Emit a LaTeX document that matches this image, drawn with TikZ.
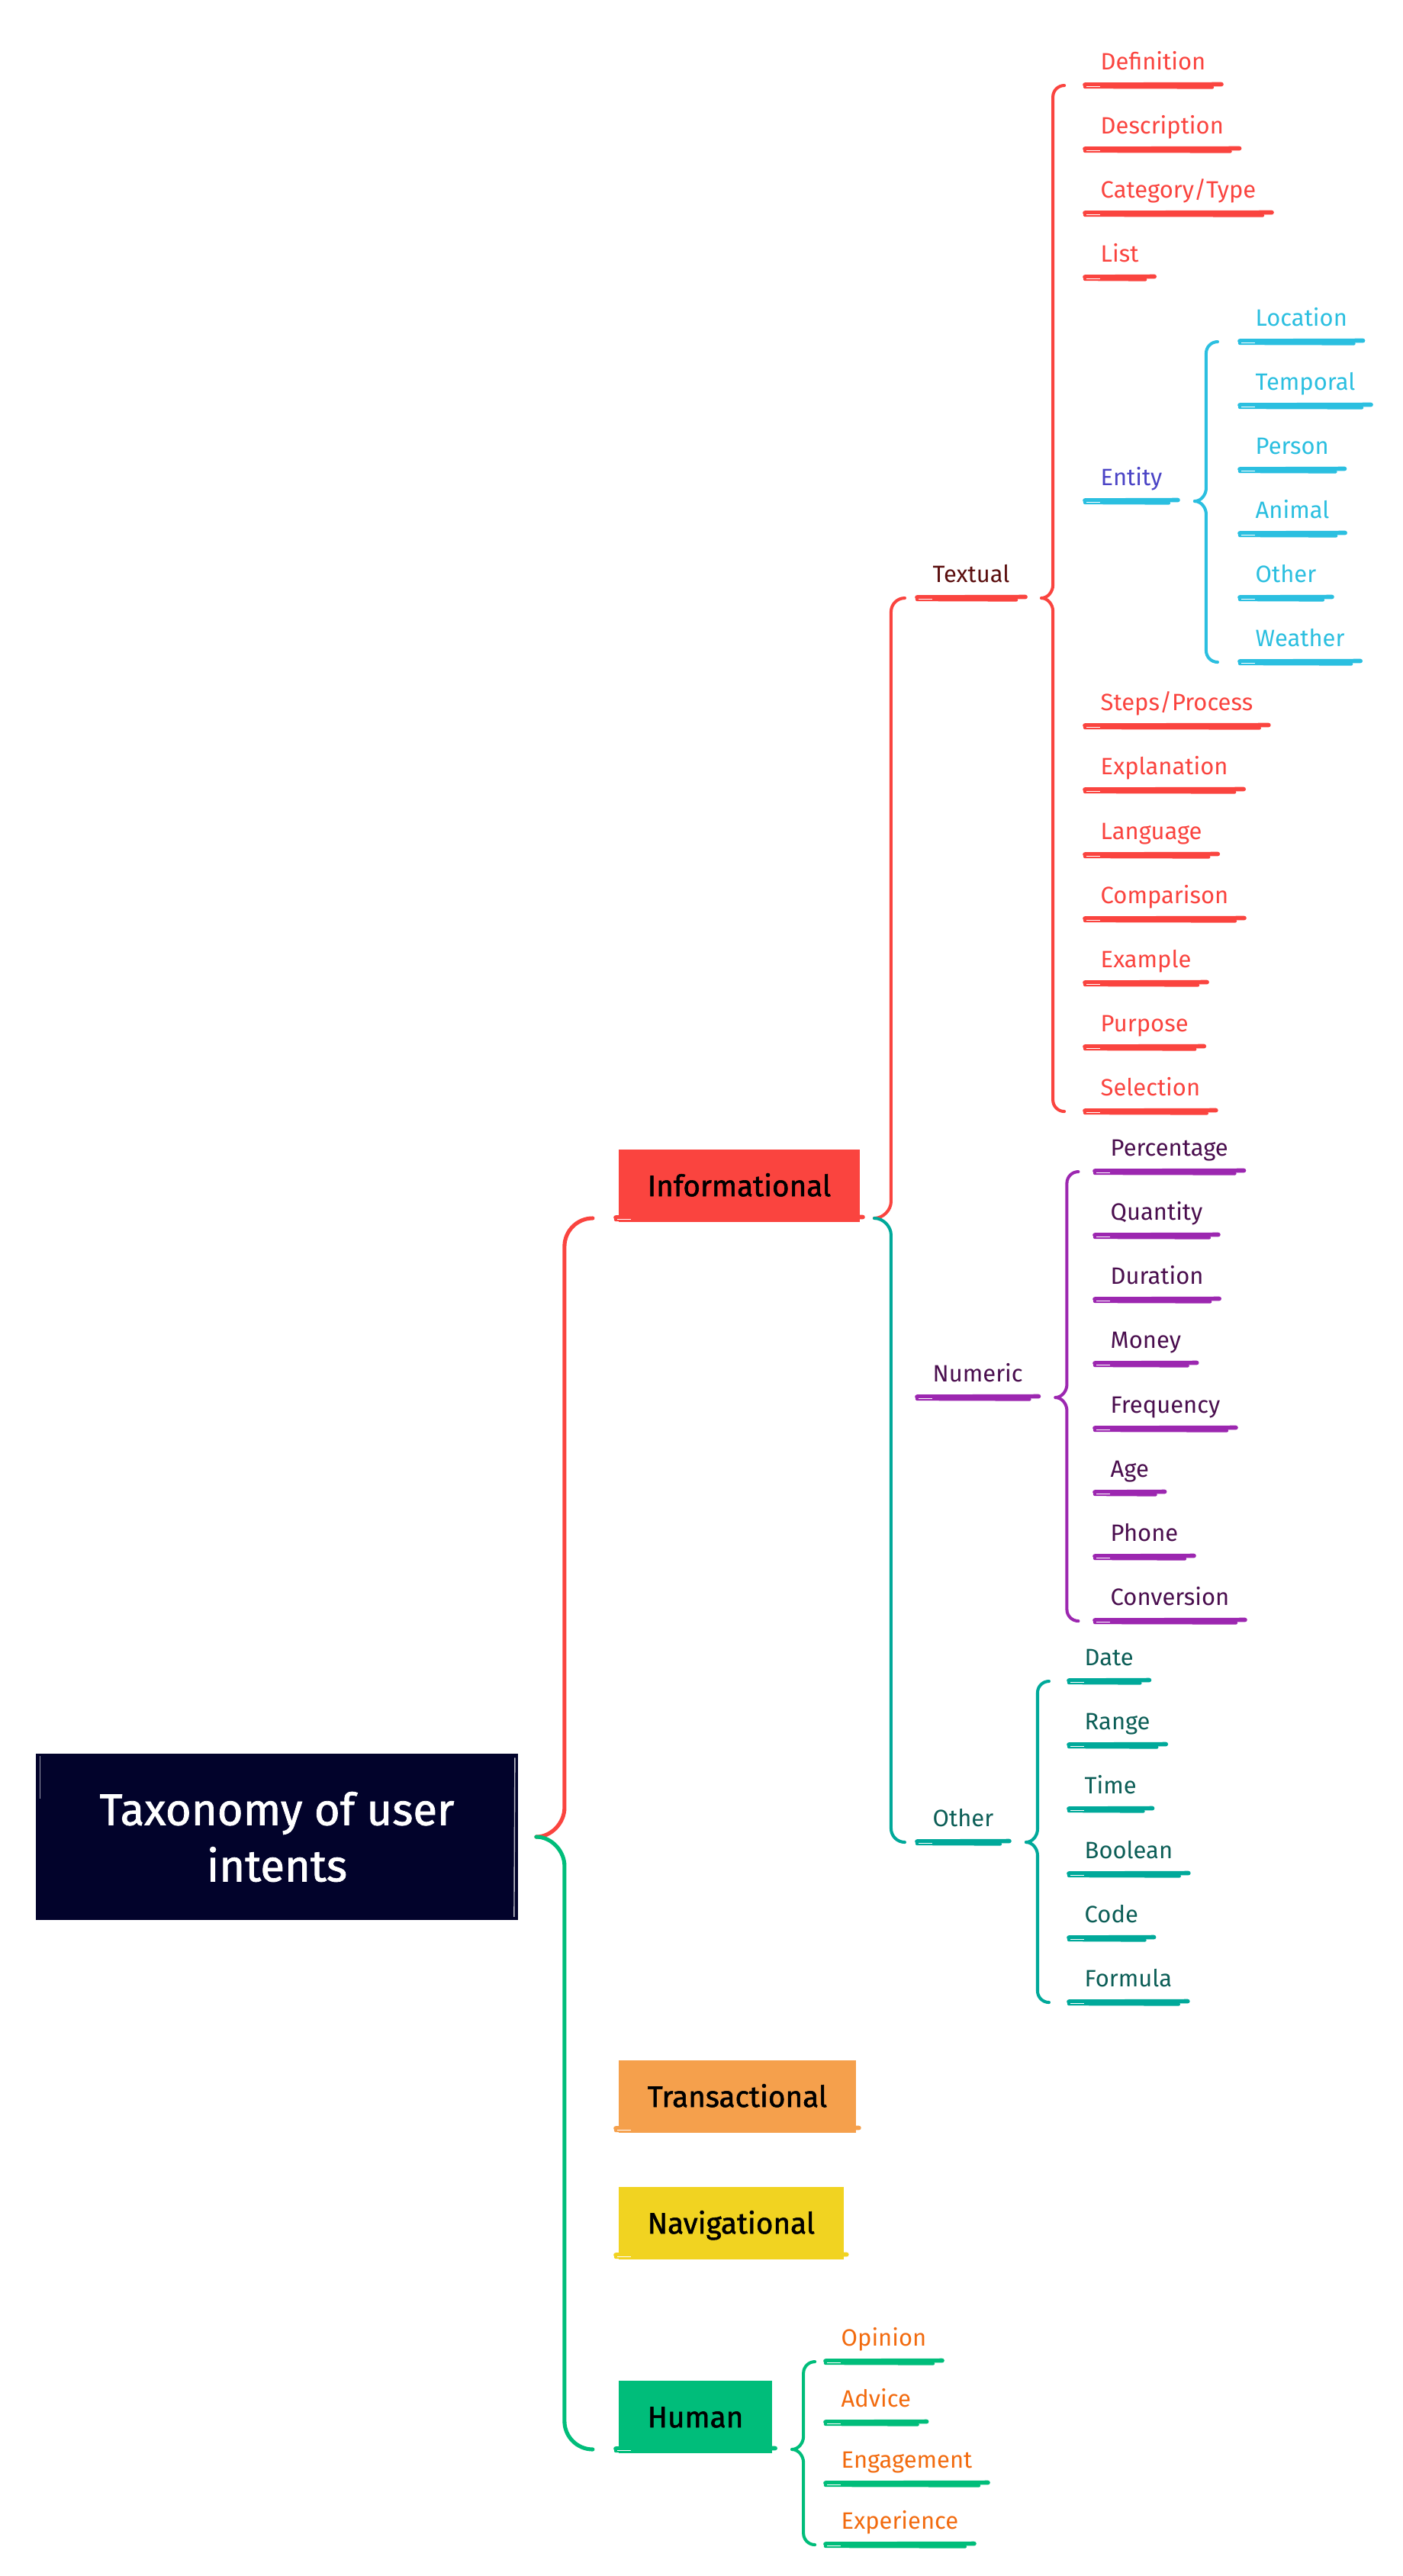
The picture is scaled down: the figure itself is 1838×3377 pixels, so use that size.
\documentclass[tikz,border=0pt]{standalone}
\usepackage{fontspec}
\setmainfont{Fira Sans}
\newfontfamily\firab[FakeBold=1.4]{Fira Sans}
\usetikzlibrary{calc}
\definecolor{navy}{HTML}{02032B}
\definecolor{cred}{HTML}{FA443F}
\definecolor{corange}{HTML}{F5A04C}
\definecolor{cyellow}{HTML}{F1D321}
\definecolor{cgreen}{HTML}{00BD7A}
\definecolor{cteal}{HTML}{00A99A}
\definecolor{cpurple}{HTML}{9C27B0}
\definecolor{ccyan}{HTML}{2BBFE0}
\definecolor{tmaroon}{HTML}{5B0F0F}
\definecolor{tpurple}{HTML}{4A0E4E}
\definecolor{tteal}{HTML}{0C5E57}
\definecolor{tindigo}{HTML}{4B44C6}
\definecolor{torange}{HTML}{F26B0F}

\newcommand{\leaffont}{\fontsize{8.8}{11}\selectfont}
\newcommand{\boxfontsz}{\firab\fontsize{11}{13}\selectfont}
\newcommand{\rootfontsz}{\firab\fontsize{16.5}{21}\selectfont}

\tikzset{
  leaf/.style={font=\leaffont, inner xsep=0.2cm, inner ysep=0pt, anchor=base west},
  boxn/.style={font=\boxfontsz, text=black, inner xsep=0.38cm, minimum height=0.95cm,
               text height=7.6pt, text depth=0pt, anchor=south west},
  rootn/.style={fill=navy, text=white, minimum width=6.32cm, minimum height=2.18cm,
                align=center, font=\rootfontsz, inner sep=0pt},
  brc/.style={line width=1.15pt, line cap=round, line join=round},
  rootbrc/.style={line width=1.45pt, line cap=round, line join=round},
  ulmain/.style={line width=1.6pt, line cap=round},
  ulsub/.style={line width=1.2pt, line cap=round},
}

\newcommand{\ulstrokes}[3]{%
  \draw[ulmain,#1] ($(#2)+(0,-1)$) -- ($(#3)+(0,-1.5)$);
  \draw[ulsub,#1] ($(#2)+(0,2)$) -- ($(#3)+(-12,2.5)$);
  \draw[white,line width=0.25pt] ($(#2)+(2,1)$) -- ($(#2)+(20,1)$);
}
\newcommand{\leaf}[6]{%
  \node[leaf, text=#4] (#1) at (#2,#3) {#6};
  \coordinate (#1-l) at ([yshift=-0.21cm]#1.base west);
  \coordinate (#1-r) at ([yshift=-0.21cm]#1.base east);
  \ulstrokes{#5}{#1-l}{#1-r}}
\newcommand{\catbox}[5]{%
  \node[boxn, fill=#4] (#1) at (#2,#3) {#5};
  \coordinate (#1-l) at ([xshift=-0.03cm,yshift=0.06cm]#1.south west);
  \coordinate (#1-r) at ([xshift=0.03cm,yshift=0.06cm]#1.south east);
  \ulstrokes{#4}{#1-l}{#1-r}}
% upper half of a brace: J, first child, d, s, r
\newcommand{\btop}[6]{%
  \coordinate (bV) at ($(#2)+(#4,0)$);
  \draw[#1] (#2) .. controls +(0.55*#4,0) and +(0,0.5*#5) .. ($(#2)+(#4,-#5)$)
    -- ($(bV|-#3)+(0,#6)$) .. controls +(0,-0.55*#6) and +(-0.55*#6,0) .. ($(bV|-#3)+(#6,0)$);}
% lower half of a brace
\newcommand{\bbot}[6]{%
  \coordinate (bV) at ($(#2)+(#4,0)$);
  \draw[#1] (#2) .. controls +(0.55*#4,0) and +(0,-0.5*#5) .. ($(#2)+(#4,#5)$)
    -- ($(bV|-#3)+(0,-#6)$) .. controls +(0,0.55*#6) and +(-0.55*#6,0) .. ($(bV|-#3)+(#6,0)$);}

\begin{document}
\begin{tikzpicture}[x=0.01cm, y=-0.01cm]
\useasboundingbox (0,0) rectangle (1838,3377);
\fill[white] (0,0) rectangle (1838,3377);

% root
\node[rootn] (root) at (363,2408) {Taxonomy of user\\intents};
\draw[white!75!navy, line width=0.4pt] ([xshift=-0.06cm,yshift=0.05cm]root.south east) -- ([xshift=-0.05cm,yshift=-0.06cm]root.north east);
\draw[white!60!navy, line width=0.3pt] ([xshift=0.06cm,yshift=-0.04cm]root.north west) -- ([xshift=0.06cm,yshift=-0.6cm]root.north west);

% main categories
\catbox{info}{810}{1603}{cred}{Informational}
\catbox{trans}{810}{2797}{corange}{Transactional}
\catbox{nav}{810}{2963}{cyellow}{Navigational}
\catbox{human}{810}{3217}{cgreen}{Human}

% level 2
\leaf{textual}{1202}{763}{tmaroon}{cred}{Textual}
\leaf{numeric}{1202}{1811}{tpurple}{cpurple}{Numeric}
\leaf{other}{1202}{2394}{tteal}{cteal}{Other}

% textual children
\leaf{def}{1422}{91}{cred}{cred}{Definition}
\leaf{desc}{1422}{175}{cred}{cred}{Description}
\leaf{cat}{1422}{259}{cred}{cred}{Category/Type}
\leaf{list}{1422}{343}{cred}{cred}{List}
\leaf{ent}{1422}{636}{tindigo}{ccyan}{Entity}
\leaf{steps}{1422}{931}{cred}{cred}{Steps/Process}
\leaf{expl}{1422}{1015}{cred}{cred}{Explanation}
\leaf{lang}{1422}{1100}{cred}{cred}{Language}
\leaf{comp}{1422}{1184}{cred}{cred}{Comparison}
\leaf{exam}{1422}{1268}{cred}{cred}{Example}
\leaf{purp}{1422}{1352}{cred}{cred}{Purpose}
\leaf{sel}{1422}{1436}{cred}{cred}{Selection}

% entity children
\leaf{loc}{1625}{427}{ccyan}{ccyan}{Location}
\leaf{temp}{1625}{511}{ccyan}{ccyan}{Temporal}
\leaf{pers}{1625}{595}{ccyan}{ccyan}{Person}
\leaf{anim}{1625}{679}{ccyan}{ccyan}{Animal}
\leaf{eoth}{1625}{763}{ccyan}{ccyan}{Other}
\leaf{weat}{1625}{847}{ccyan}{ccyan}{Weather}

% numeric children
\leaf{perc}{1435}{1515}{tpurple}{cpurple}{Percentage}
\leaf{quan}{1435}{1599}{tpurple}{cpurple}{Quantity}
\leaf{dur}{1435}{1683}{tpurple}{cpurple}{Duration}
\leaf{mon}{1435}{1767}{tpurple}{cpurple}{Money}
\leaf{freq}{1435}{1852}{tpurple}{cpurple}{Frequency}
\leaf{age}{1435}{1936}{tpurple}{cpurple}{Age}
\leaf{phone}{1435}{2020}{tpurple}{cpurple}{Phone}
\leaf{conv}{1435}{2104}{tpurple}{cpurple}{Conversion}

% other children
\leaf{date}{1401}{2183}{tteal}{cteal}{Date}
\leaf{range}{1401}{2267}{tteal}{cteal}{Range}
\leaf{time}{1401}{2351}{tteal}{cteal}{Time}
\leaf{bool}{1401}{2436}{tteal}{cteal}{Boolean}
\leaf{code}{1401}{2520}{tteal}{cteal}{Code}
\leaf{form}{1401}{2604}{tteal}{cteal}{Formula}

% human children
\leaf{opin}{1082}{3075}{torange}{cgreen}{Opinion}
\leaf{adv}{1082}{3155}{torange}{cgreen}{Advice}
\leaf{eng}{1082}{3235}{torange}{cgreen}{Engagement}
\leaf{exp}{1082}{3315}{torange}{cgreen}{Experience}

% braces
\coordinate (Jroot) at ([xshift=0.23cm]root.east);
\btop{rootbrc,cred}{Jroot}{info-l}{37}{38}{37}
\bbot{rootbrc,cgreen}{Jroot}{human-l}{37}{38}{37}

\coordinate (Jinfo) at ([xshift=0.15cm]info-r);
\btop{brc,cred}{Jinfo}{textual-l}{22}{22}{18}
\bbot{brc,cteal}{Jinfo}{other-l}{22}{22}{18}

\coordinate (Jtext) at ([xshift=0.21cm]textual-r);
\btop{brc,cred}{Jtext}{def-l}{15}{17}{15}
\bbot{brc,cred}{Jtext}{sel-l}{15}{17}{15}

\coordinate (Jent) at ([xshift=0.22cm]ent-r);
\btop{brc,ccyan}{Jent}{loc-l}{15}{17}{15}
\bbot{brc,ccyan}{Jent}{weat-l}{15}{17}{15}

\coordinate (Jnum) at ([xshift=0.22cm]numeric-r);
\btop{brc,cpurple}{Jnum}{perc-l}{15}{17}{15}
\bbot{brc,cpurple}{Jnum}{conv-l}{15}{17}{15}

\coordinate (Joth) at ([xshift=0.22cm]other-r);
\btop{brc,cteal}{Joth}{date-l}{15}{17}{15}
\bbot{brc,cteal}{Joth}{form-l}{15}{17}{15}

\coordinate (Jhum) at ([xshift=0.22cm]human-r);
\btop{brc,cgreen}{Jhum}{opin-l}{15}{17}{15}
\bbot{brc,cgreen}{Jhum}{exp-l}{15}{17}{15}
\end{tikzpicture}
\end{document}
